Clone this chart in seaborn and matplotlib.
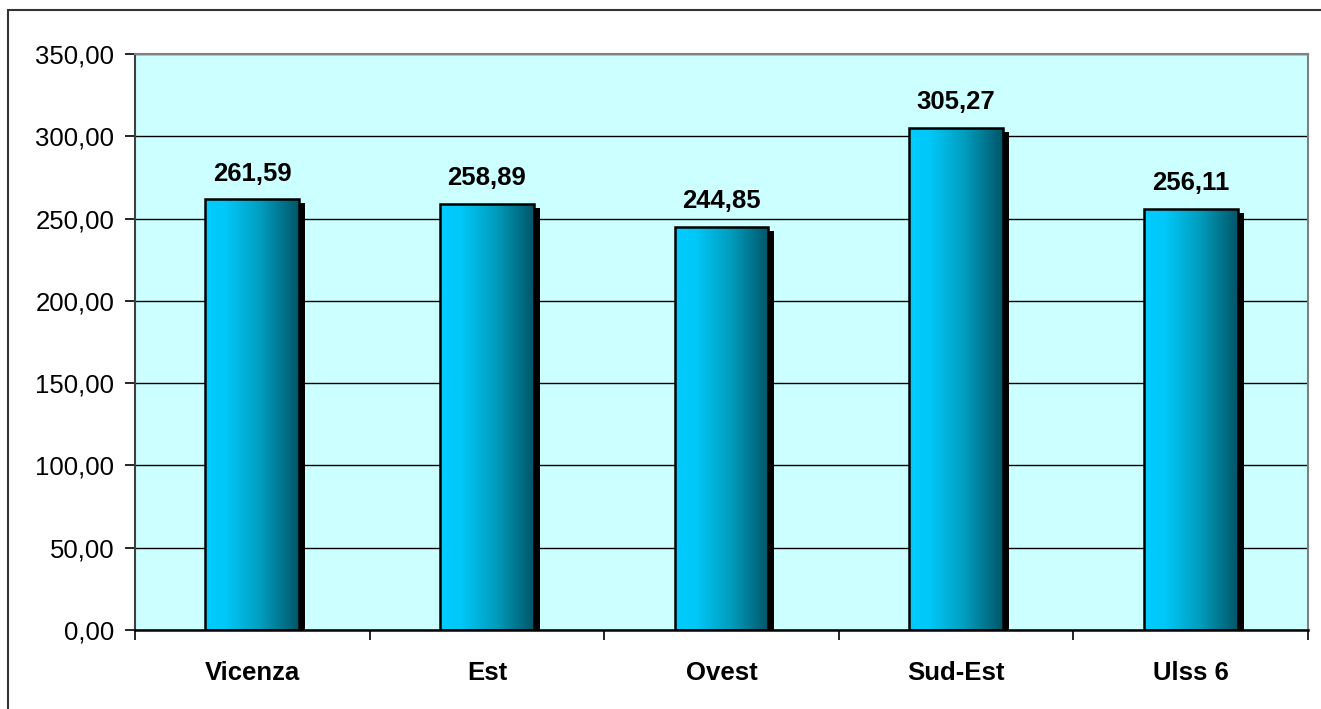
import numpy as np
import pandas as pd
import matplotlib
matplotlib.use("Agg")
import matplotlib.pyplot as plt
import matplotlib.transforms as mtransforms
from matplotlib.colors import LinearSegmentedColormap
from matplotlib.patches import Rectangle
from matplotlib.ticker import FuncFormatter, FixedLocator
import seaborn as sns

regions = ["Vicenza", "Est", "Ovest", "Sud-Est", "Ulss 6"]
values = [261.59, 258.89, 244.85, 305.27, 256.11]
y_ticks = [0, 50, 100, 150, 200, 250, 300, 350]

sns.set_theme(style="white")
plt.rcParams["font.family"] = ["Liberation Sans", "DejaVu Sans"]
plt.rcParams["text.color"] = "black"
plt.rcParams["xtick.color"] = "black"
plt.rcParams["ytick.color"] = "black"

W, H = 1321, 709
fig = plt.figure(figsize=(W / 100, H / 100), dpi=100)
ax = fig.add_axes([135 / W, 1 - 630 / H, (1308 - 135) / W, (630 - 54) / H])
ax.set_facecolor("#CCFFFF")

df = pd.DataFrame({"region": regions, "value": values})
sns.barplot(data=df, x="region", y="value", width=0.4, color="#00CCFF",
            edgecolor="black", linewidth=1.8, ax=ax, zorder=3)

ax.set_ylim(0, 350)
ax.set_xlim(-0.5, len(regions) - 0.5)
ax.yaxis.set_major_locator(FixedLocator(y_ticks))
ax.yaxis.set_major_formatter(FuncFormatter(lambda v, p: f"{v:.2f}".replace(".", ",")))
ax.grid(axis="y", color="black", linewidth=1.0, zorder=0)
ax.set_axisbelow(True)
ax.set_xlabel("")
ax.set_ylabel("")

# gradient fill and drop shadow for each bar
cmap = LinearSegmentedColormap.from_list(
    "bar", [(0.0, "#00CCFF"), (0.22, "#00C8F8"), (0.6, "#009CBC"), (1.0, "#005668")])
grad = np.linspace(0, 1, 256).reshape(1, -1)
shadow_tr = mtransforms.offset_copy(ax.transData, fig=fig, x=6, y=-4, units="dots")
for patch in ax.patches[:len(values)]:
    x0 = patch.get_x()
    w = patch.get_width()
    h = patch.get_height()
    ax.add_patch(Rectangle((x0, 0), w, h, facecolor="black", edgecolor="none",
                           transform=shadow_tr, zorder=2, clip_on=True))
    im = ax.imshow(grad, cmap=cmap, aspect="auto", extent=[x0, x0 + w, 0, h],
                   zorder=2.5, interpolation="bicubic")
    im.set_clip_path(patch)
    patch.set_facecolor("none")
    ax.text(x0 + w / 2, h + 11.5, f"{h:.2f}".replace(".", ","), ha="center",
            va="baseline", fontsize=18.5, fontweight="bold", color="black", zorder=5)

ax.set_xlim(-0.5, len(regions) - 0.5)
ax.set_ylim(0, 350)

# spines
for side in ["top", "right"]:
    ax.spines[side].set_visible(True)
    ax.spines[side].set_color("#808080")
    ax.spines[side].set_linewidth(1.5)
ax.spines["left"].set_color("#404040")
ax.spines["left"].set_linewidth(1.5)
ax.spines["bottom"].set_color("black")
ax.spines["bottom"].set_linewidth(1.8)
ax.spines["bottom"].set_zorder(6)

ax.tick_params(axis="y", which="major", direction="out", length=7, width=1.2,
               color="black", labelsize=18.5, pad=8, left=True, labelcolor="black")
ax.tick_params(axis="x", which="major", length=0, labelsize=18.5, pad=22,
               labelcolor="black")
ax.xaxis.set_minor_locator(FixedLocator(np.arange(-0.5, len(regions), 1.0)))
ax.tick_params(axis="x", which="minor", direction="out", length=7, width=1.2,
               color="black", bottom=True)
for lbl in ax.get_xticklabels():
    lbl.set_fontweight("bold")

# outer frame of the chart
fig.patches.append(Rectangle((8 / W, -0.1), 1.2, 1 - 10 / H + 0.1, transform=fig.transFigure,
                             fill=False, edgecolor="#333333", linewidth=1.5))

fig.savefig("out.png", dpi=100)
